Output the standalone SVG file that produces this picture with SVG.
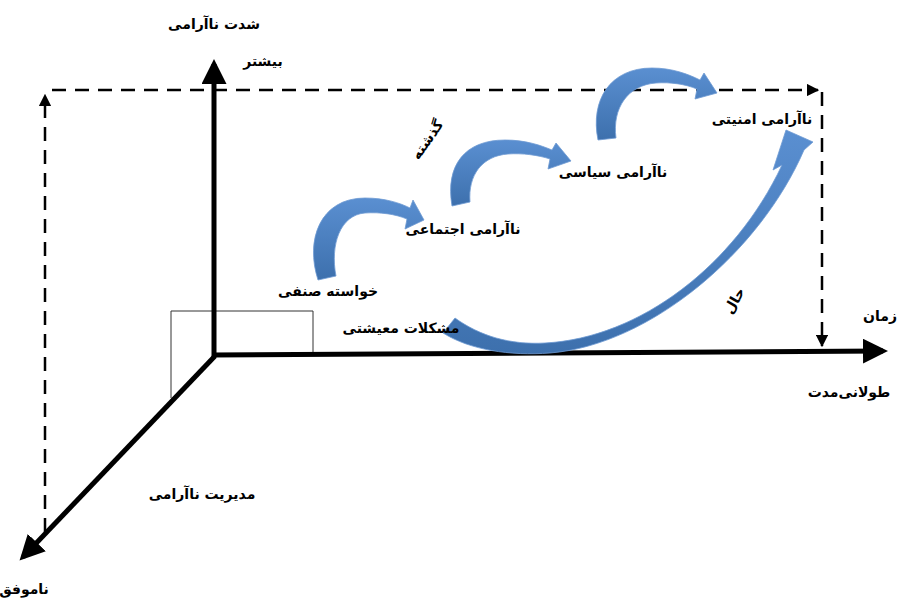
<svg xmlns="http://www.w3.org/2000/svg" width="899" height="598" viewBox="0 0 899 598">
<style>
.t{font-family:"DejaVu Sans","Noto Sans",sans-serif;font-weight:bold;font-size:14px;fill:#000;text-anchor:middle}
.ax{stroke:#000;stroke-width:5;fill:none}
.ds{stroke:#000;stroke-width:2.5;fill:none;stroke-dasharray:14 9}
.bl{fill:url(#g);stroke:#6f9bd3;stroke-width:0.8}
</style>
<defs>
<linearGradient id="g" x1="0" y1="0" x2="0" y2="1">
<stop offset="0" stop-color="#5a8fd1"/>
<stop offset="1" stop-color="#3d70ad"/>
</linearGradient>
<marker id="ah" markerWidth="5" markerHeight="5" refX="4" refY="2.5" orient="auto" markerUnits="strokeWidth">
<path d="M0,0 L5,2.5 L0,5 Z" fill="#000"/>
</marker>
<marker id="dh" markerWidth="5" markerHeight="5" refX="4.5" refY="2.5" orient="auto" markerUnits="strokeWidth">
<path d="M0,0 L5,2.5 L0,5 Z" fill="#000"/>
</marker>
</defs>
<rect width="899" height="598" fill="#fff"/>
<g id="connectors">
<polyline points="171,398 171,311 313,311 313,353" fill="none" stroke="#333" stroke-width="1"/>
<line class="ds" x1="45" y1="532" x2="45" y2="95" marker-end="url(#dh)"/>
<line class="ds" x1="52" y1="90" x2="818" y2="90" marker-end="url(#dh)"/>
<line class="ds" x1="822" y1="92" x2="822" y2="346" marker-end="url(#dh)"/>
<line class="ax" x1="214" y1="357" x2="214" y2="64" marker-end="url(#ah)"/>
<line class="ax" x1="212" y1="355" x2="883" y2="351" marker-end="url(#ah)"/>
<line class="ax" x1="215" y1="356" x2="23" y2="557" marker-end="url(#ah)"/>
<path class="bl" d="M318,280 C305,240 320,198 365,198 C385,198 400,203 410,208 L413,200 L424,220 L405,229 L407,219 C395,214 380,212 365,213 C340,215 330,245 336,276 Z"/>
<path class="bl" d="M452,206 C445,165 465,140 505,140 C525,140 540,145 552,150 L556,143 L571,161 L548,169 L550,159 C538,155 522,153 508,154 C482,156 468,175 470,202 Z"/>
<path class="bl" d="M598,140 C590,100 610,68 652,68 C672,68 688,74 700,80 L704,73 L717,93 L695,99 L697,89 C685,84 670,82 656,83 C628,85 612,108 616,138 Z"/>
<path class="bl" d="M455,318 C480,336 510,345 545,343 C640,338 735,265 782,165 L773,170 L786,130 L813,142 L804,150 C760,252 650,345 550,353 C510,356 470,350 443,333 Z"/>
</g>
<g id="n-intensity"><text class="t" x="214" y="29" font-size="15">شدت ناآرامی</text></g>
<g id="n-more"><text class="t" x="263" y="66">بیشتر</text></g>
<g id="n-security"><text class="t" x="762" y="124">ناآرامی امنیتی</text></g>
<g id="n-political"><text class="t" x="613" y="177">ناآرامی سیاسی</text></g>
<g id="n-social"><text class="t" x="463" y="234">ناآرامی اجتماعی</text></g>
<g id="n-guild"><text class="t" x="328" y="296">خواسته صنفی</text></g>
<g id="n-livelihood"><text class="t" x="401" y="333">مشکلات معیشتی</text></g>
<g id="n-time"><text class="t" x="880" y="321">زمان</text></g>
<g id="n-long"><text class="t" x="849" y="397">طولانی‌مدت</text></g>
<g id="n-management"><text class="t" x="202" y="499">مدیریت ناآرامی</text></g>
<g id="n-failed"><text class="t" x="24" y="594">ناموفق</text></g>
<g id="n-past"><text class="t" transform="translate(428,140) rotate(-55)" x="0" y="4">گذشته</text></g>
<g id="n-present"><text class="t" transform="translate(735,301) rotate(-60)" x="0" y="4">حال</text></g>
</svg>
